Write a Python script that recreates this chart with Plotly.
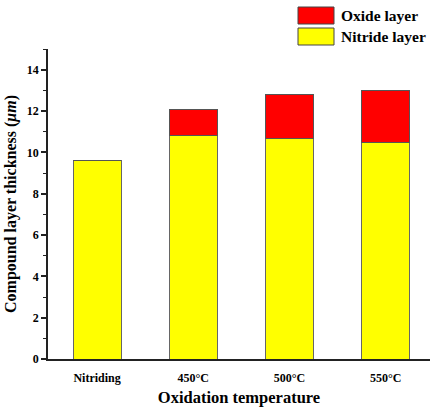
import plotly.graph_objects as go

categories = ["Nitriding", "450°C", "500°C", "550°C"]
nitride_thickness = [9.6, 10.82, 10.65, 10.47]
total_thickness = [9.6, 12.07, 12.78, 12.97]
oxide_thickness = [round(t - n, 2) for t, n in zip(total_thickness, nitride_thickness)]

x_pos = list(range(len(categories)))
font_family = "Liberation Serif, Times New Roman, serif"

fig = go.Figure()
fig.add_trace(go.Bar(
    x=x_pos, y=nitride_thickness, name="Nitride layer",
    marker=dict(color="#ffff00", line=dict(color="#666666", width=1)),
    width=0.5, showlegend=False,
))
fig.add_trace(go.Bar(
    x=x_pos, y=oxide_thickness, name="Oxide layer",
    marker=dict(color="#ff0000", line=dict(color="#555555", width=1)),
    width=0.5, showlegend=False,
))

# plot area in pixels: x 48..430, y 49..359
W, H = 430, 407
L, R, T, B = 48, 0, 49, 48
pw, ph = W - L - R, H - T - B

def px(xp):
    return (xp - L) / pw

def py(yp):
    return (H - B - yp) / ph

legend_items = [("Oxide layer", "#ff0000", 7, 24), ("Nitride layer", "#ffff00", 28, 45)]
for label, color, y0, y1 in legend_items:
    fig.add_shape(type="rect", xref="paper", yref="paper",
                  x0=px(298), x1=px(334), y0=py(y1), y1=py(y0),
                  fillcolor=color, line=dict(color="#444444", width=1))
    fig.add_annotation(xref="paper", yref="paper", x=px(339), y=py((y0 + y1) / 2),
                       text=f"<b>{label}</b>", showarrow=False, xanchor="left", yanchor="middle",
                       font=dict(family=font_family, size=15.5, color="black"))

fig.update_layout(
    barmode="stack",
    width=W, height=H,
    margin=dict(l=L, r=R, t=T, b=B),
    plot_bgcolor="white", paper_bgcolor="white",
    font=dict(family=font_family, color="black"),
    xaxis=dict(
        range=[-0.51, 3.46], tickvals=x_pos, ticktext=[f"<b>{c}</b>" for c in categories],
        tickfont=dict(size=12), showline=True, linecolor="#222222", linewidth=1.5,
        ticks="", showgrid=False, zeroline=False, ticklabelstandoff=7,
        title=dict(text="<b>Oxidation temperature</b>", font=dict(size=16.5), standoff=10),
    ),
    yaxis=dict(
        range=[0, 15], tickvals=[0, 2, 4, 6, 8, 10, 12, 14],
        ticktext=[f"<b>{v}</b>" for v in [0, 2, 4, 6, 8, 10, 12, 14]],
        tickfont=dict(size=12), showline=True, linecolor="#222222", linewidth=1.5,
        ticks="outside", ticklen=5, tickwidth=1.5, tickcolor="#222222",
        minor=dict(tickvals=[1, 3, 5, 7, 9, 11, 13, 15], ticks="outside", ticklen=3,
                   tickwidth=1, tickcolor="#222222"),
        showgrid=False, zeroline=False,
        title=dict(text="<b>Compound layer thickness (<i>μm</i>)</b>", font=dict(size=16), standoff=6),
    ),
)

fig.write_html("out.html")
